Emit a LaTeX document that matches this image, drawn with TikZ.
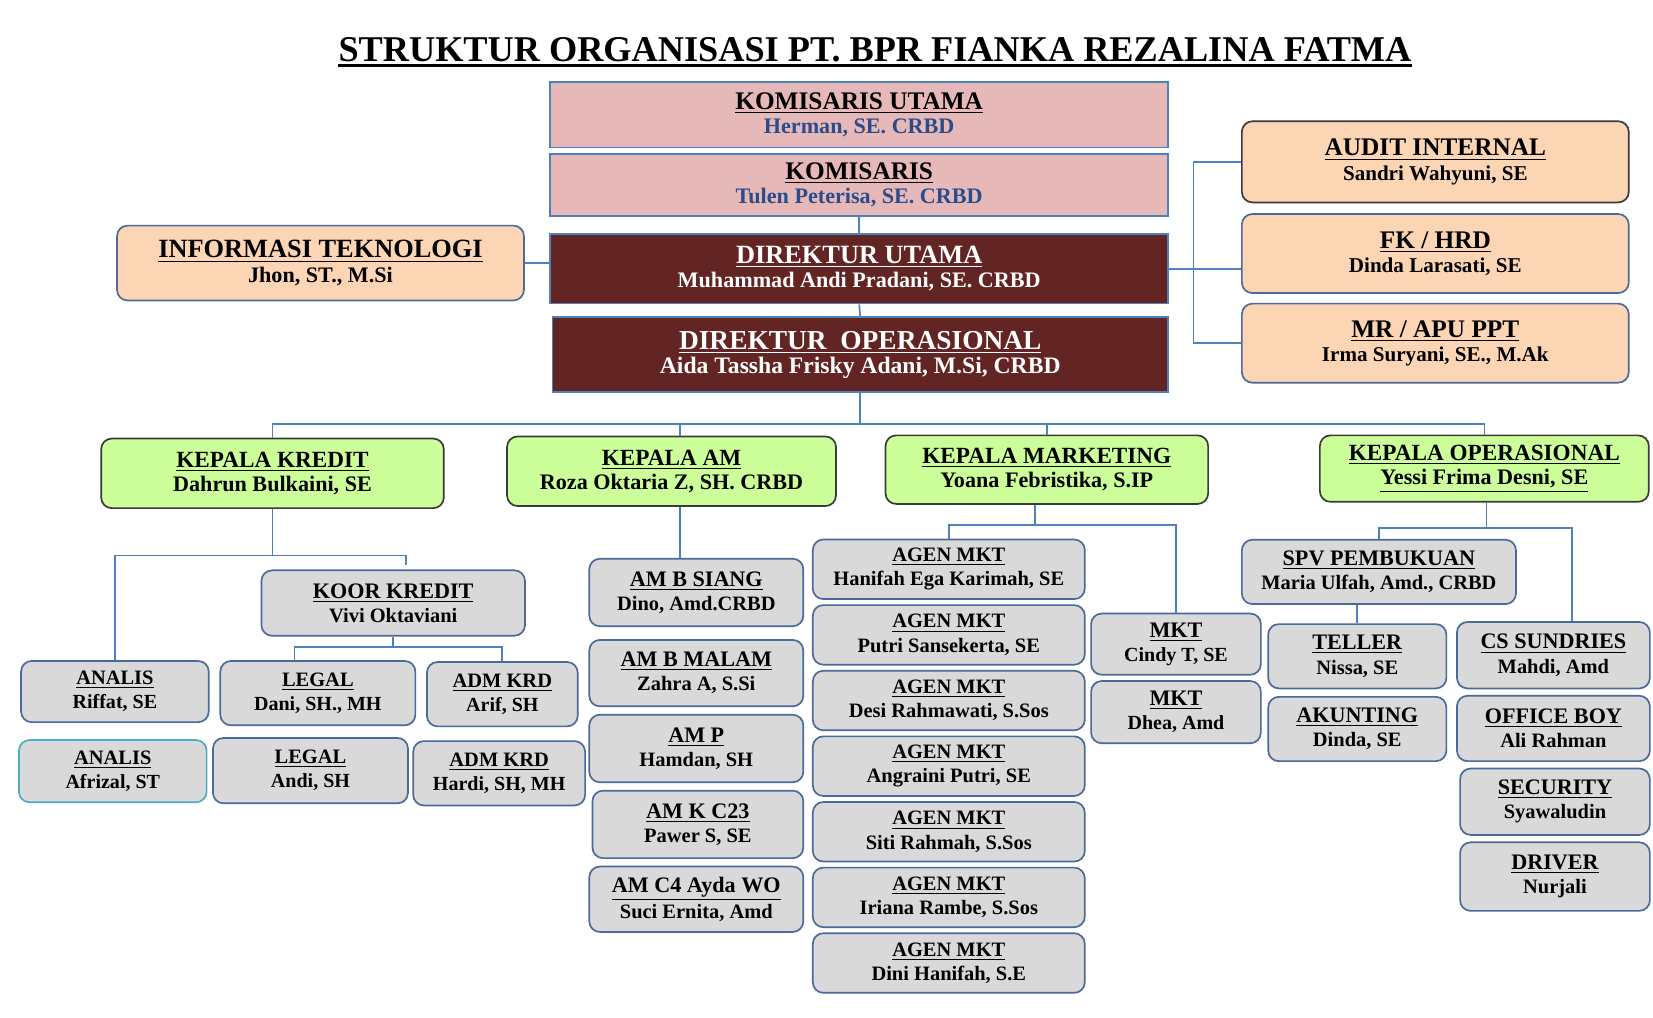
\documentclass[tikz,border=0pt]{standalone}
\usepackage{fontspec}
\setmainfont{Liberation Serif}

\definecolor{garisbiru}{HTML}{4F81BD}
\definecolor{merahmuda}{HTML}{E6B9B8}
\definecolor{marun}{HTML}{632523}
\definecolor{persik}{HTML}{FCD5B5}
\definecolor{hijaumuda}{HTML}{CCFF99}
\definecolor{abuabu}{HTML}{D9D9D9}
\definecolor{tepigelap}{HTML}{3A3A3A}
\definecolor{tepibiru}{HTML}{4A6A9A}
\definecolor{biruteks}{HTML}{2A4C8C}
\definecolor{tosca}{HTML}{4BACC6}

% ukuran huruf judul kotak
\newcommand{\ukatas}{12}
\newcommand{\atas}[1]{{\fontsize{\ukatas}{\ukatas}\selectfont\underline{#1}}}

\tikzset{
  garis/.style={draw=garisbiru, line width=0.8pt},
  huruf/.style 2 args={font=\fontsize{#2}{11.5}\selectfont\bfseries, execute at begin node={\def\ukatas{#1}}},
  wh/.style 2 args={minimum width=#1*0.5pt, minimum height=#2*0.5pt},
  kotak/.style={draw, line width=0.8pt, inner sep=0pt, align=center},
  komisaris/.style={kotak, fill=merahmuda, draw=garisbiru, huruf={12}{10.5}},
  direktur/.style={kotak, fill=marun, draw=garisbiru, text=white, huruf={12.5}{10.5}},
  staf/.style={kotak, rounded corners=5pt, fill=persik, draw=tepibiru, huruf={12}{10}},
  kepala/.style={kotak, rounded corners=5pt, fill=hijaumuda, draw=tepigelap, huruf={11}{10.5}},
  unit/.style={kotak, rounded corners=5pt, fill=abuabu, draw=tepibiru, huruf={10.5}{9.7}},
  agen/.style={unit, huruf={9.7}{9.7}},
  kredit/.style={unit, huruf={9.7}{9.5}},
}

\begin{document}
\begin{tikzpicture}[x=0.5pt,y=-0.5pt]
\useasboundingbox (0,0) rectangle (1568,965);

% Judul
\node[inner sep=0pt, font=\fontsize{17.2}{18}\selectfont\bfseries] (judul) at (830,47) {STRUKTUR ORGANISASI PT. BPR FIANKA REZALINA FATMA};
\draw[line width=1.5pt] ([yshift=-2pt]judul.base west) -- ([yshift=-2pt]judul.base east);

% Komisaris dan direksi
\node[komisaris, wh={586}{62}] (kom1) at (815,109) {\atas{KOMISARIS UTAMA}\\ \textcolor{biruteks}{Herman, SE. CRBD}};
\node[komisaris, wh={586}{59}] (kom2) at (815,175.5) {\atas{KOMISARIS}\\ \textcolor{biruteks}{Tulen Peterisa, SE. CRBD}};
\node[direktur, wh={586}{66}] (du) at (815,255) {\atas{DIREKTUR UTAMA}\\ Muhammad Andi Pradani, SE. CRBD};
\node[direktur, wh={584}{71}, huruf={13}{11.2}] (do) at (816,336.5) {\atas{DIREKTUR\ \ OPERASIONAL}\\ Aida Tassha Frisky Adani, M.Si, CRBD};

% Staf
\node[staf, wh={386}{71}, huruf={12.5}{10.5}] (it) at (304,249.5) {\atas{INFORMASI TEKNOLOGI}\\ Jhon, ST., M.Si};
\node[staf, wh={367}{77}, draw=tepigelap] (audit) at (1361.5,153.5) {\atas{AUDIT INTERNAL}\\ Sandri Wahyuni, SE};
\node[staf, wh={367}{75}] (fk) at (1361.5,240.5) {\atas{FK / HRD}\\ Dinda Larasati, SE};
\node[staf, wh={367}{75}] (mr) at (1361.5,325.5) {\atas{MR / APU PPT}\\ Irma Suryani, SE., M.Ak};

% Kepala bagian
\node[kepala, wh={325}{66}] (kk) at (258.5,449) {\atas{KEPALA KREDIT}\\ Dahrun Bulkaini, SE};
\node[kepala, wh={312}{66}] (kam) at (637,447) {\atas{KEPALA AM}\\ Roza Oktaria Z, SH. CRBD};
\node[kepala, wh={306}{65}] (kmkt) at (993,445.5) {\atas{KEPALA MARKETING}\\ Yoana Febristika, S.IP};
\node[kepala, wh={312}{63}] (kop) at (1408,444.5) {\atas{KEPALA OPERASIONAL}\\ \underline{Yessi Frima Desni, SE}\vphantom{g}};

% Bagian kredit
\node[unit, wh={250}{62}] (koor) at (373,572) {\atas{KOOR KREDIT}\\ Vivi Oktaviani};
\node[kredit, wh={178}{58}] (analis1) at (109,656) {\atas{ANALIS}\\ Riffat, SE};
\node[kredit, wh={185}{61}] (legal1) at (301.5,657.5) {\atas{LEGAL}\\ Dani, SH., MH};
\node[kredit, wh={143}{61}] (adm1) at (476.5,658.5) {\atas{ADM KRD}\\ Arif, SH};
\node[kredit, wh={178}{59}, draw=tosca] (analis2) at (107,731.5) {\atas{ANALIS}\\ Afrizal, ST};
\node[kredit, wh={185}{62}] (legal2) at (294.5,731) {\atas{LEGAL}\\ Andi, SH};
\node[kredit, wh={163}{61}] (adm2) at (473.5,733.5) {\atas{ADM KRD}\\ Hardi, SH, MH};

% Bagian AM
\node[unit, wh={203}{64}] (am1) at (660.5,562) {\atas{AM B SIANG}\\ Dino, Amd.CRBD};
\node[unit, wh={203}{63}] (am2) at (660.5,638.5) {\atas{AM B MALAM}\\ Zahra A, S.Si};
\node[unit, wh={203}{64}] (am3) at (660.5,710) {\atas{AM P}\\ Hamdan, SH};
\node[unit, wh={200}{64}] (am4) at (662,782) {\atas{AM K C23}\\ Pawer S, SE};
\node[unit, wh={203}{62}, huruf={10.5}{9.7}, font=\fontsize{9.7}{12.5}\selectfont\bfseries] (am5) at (660.5,853) {\atas{AM C4 Ayda WO}\\ Suci Ernita, Amd};

% Bagian marketing
\foreach \nama [count=\i] in {{Hanifah Ega Karimah, SE},{Putri Sansekerta, SE},{Desi Rahmawati, S.Sos},{Angraini Putri, SE},{Siti Rahmah, S.Sos},{Iriana Rambe, S.Sos},{Dini Hanifah, S.E}} {
  \node[agen, wh={258}{56.5}] (agen\i) at (900,{477.75+62.25*\i}) {\atas{AGEN MKT}\\ \nama};
}
\node[unit, wh={161}{58}, huruf={10.5}{9.5}] (mkt1) at (1115.5,611) {\atas{MKT}\\ Cindy T, SE};
\node[unit, wh={161}{59}, huruf={10.5}{9.5}] (mkt2) at (1115.5,675.5) {\atas{MKT}\\ Dhea, Amd};

% Bagian operasional
\node[unit, wh={260}{61}] (spv) at (1308,542.5) {\atas{SPV PEMBUKUAN}\\ Maria Ulfah, Amd., CRBD};
\node[unit, wh={169}{61}] (teller) at (1287.5,622.5) {\atas{TELLER}\\ Nissa, SE};
\node[unit, wh={169}{61}] (akunting) at (1287.5,691.5) {\atas{AKUNTING}\\ Dinda, SE};
\node[unit, wh={183}{63}] (cs) at (1473.5,621.5) {\atas{CS SUNDRIES}\\ Mahdi, Amd};
\node[unit, wh={183}{62}] (ob) at (1473.5,691) {\atas{OFFICE BOY}\\ Ali Rahman};
\node[unit, wh={180}{63}] (security) at (1475,760.5) {\atas{SECURITY}\\ Syawaludin};
\node[unit, wh={180}{65}] (driver) at (1475,831.5) {\atas{DRIVER}\\ Nurjali};

% Garis penghubung
\draw[garis] (kom2.south) -- (du.north);
\draw[garis] (du.south) -- (do.north);
\draw[garis] (it.east) -- (it.east -| du.west);
\draw[garis] (du.east) -- (du.east -| fk.west);
\draw[garis] (audit.west) -- ++(-45,0) |- (mr.west);

\coordinate (busop) at (816,402);
\draw[garis] (do.south) -- (busop);
\draw[garis] (kk.north) |- (busop) -| (kop.north);
\draw[garis] ([xshift=4pt]kam.north) -- ([xshift=4pt]kam.north |- busop);
\draw[garis] (kmkt.north) -- (kmkt.north |- busop);

\coordinate (kksimpul) at (258.5,527);
\coordinate (kkujung) at (385,536);
\draw[garis] (kk.south) -- (kksimpul);
\draw[garis] (analis1.north) |- (kksimpul) -| (kkujung);

\coordinate (koorsimpul) at (373,614);
\draw[garis] (koor.south) -- (koorsimpul);
\draw[garis] ([xshift=-11pt]legal1.north) |- (koorsimpul) -| (adm1.north);

\draw[garis] ([xshift=4pt]kam.south) -- ([xshift=4pt]kam.south |- am1.north);

\coordinate (mktsimpul) at (982,498);
\draw[garis] ([xshift=-5.5pt]kmkt.south) -- (mktsimpul);
\draw[garis] (agen1.north) |- (mktsimpul) -| (mkt1.north);

\coordinate (opsimpul) at (1410,501);
\draw[garis] ([xshift=1pt]kop.south) -- (opsimpul);
\draw[garis] (spv.north) |- (opsimpul) -| ([xshift=8.75pt]cs.north);
\draw[garis] (spv.south -| teller.north) -- (teller.north);

\end{tikzpicture}
\end{document}
